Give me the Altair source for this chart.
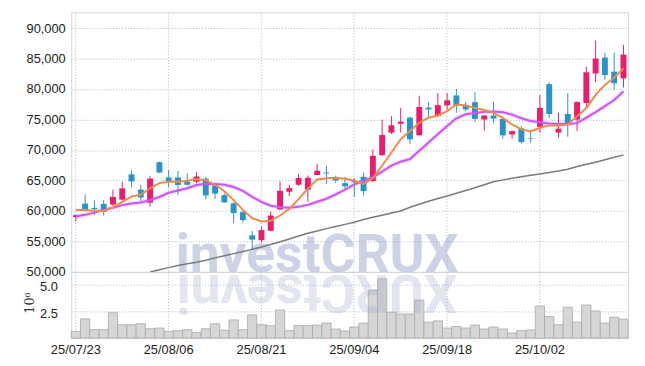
import altair as alt
import pandas as pd

# ---------------- data ----------------
dates = [
    "25/07/23", "25/07/24", "25/07/25", "25/07/28", "25/07/29", "25/07/30", "25/07/31", "25/08/01", "25/08/04", "25/08/05",
    "25/08/06", "25/08/07", "25/08/08", "25/08/11", "25/08/12", "25/08/13", "25/08/14", "25/08/18", "25/08/19", "25/08/20",
    "25/08/21", "25/08/22", "25/08/25", "25/08/26", "25/08/27", "25/08/28", "25/08/29", "25/09/01", "25/09/02", "25/09/03",
    "25/09/04", "25/09/05", "25/09/08", "25/09/09", "25/09/10", "25/09/11", "25/09/12", "25/09/15", "25/09/16", "25/09/17",
    "25/09/18", "25/09/19", "25/09/22", "25/09/23", "25/09/24", "25/09/25", "25/09/26", "25/09/29", "25/09/30", "25/10/01",
    "25/10/02", "25/10/10", "25/10/13", "25/10/14", "25/10/15", "25/10/16", "25/10/17", "25/10/20", "25/10/21", "25/10/22",
]
opens = [
    59000, 61200, 60500, 61150, 61050, 61850, 66000, 63500, 61350, 68000,
    65500, 65500, 64800, 64800, 65300, 64200, 62600, 61250, 59800, 56000,
    55200, 56750, 60250, 63150, 64300, 63500, 65900, 66300, 65550, 64550,
    64900, 65600, 64900, 69150, 72850, 74300, 75300, 72400, 76950, 75550,
    77300, 78950, 77400, 77850, 75000, 75650, 75100, 72550, 73550, 71950,
    73800, 80800, 72850, 75900, 75000, 77700, 82550, 85150, 82850, 81750,
]
highs = [
    59400, 62700, 61750, 61750, 63500, 64800, 66650, 64250, 65700, 68100,
    66700, 66550, 66150, 66400, 65600, 64600, 62850, 61400, 60000, 56700,
    57450, 59900, 64850, 64300, 66100, 65800, 67750, 67400, 65800, 65550,
    65400, 66300, 70050, 75000, 75550, 76900, 75500, 78900, 77850, 79350,
    79350, 80000, 77850, 79450, 75700, 77850, 75300, 73200, 73900, 73100,
    79050, 81100, 76100, 79300, 78000, 83650, 87950, 85950, 85950, 87250,
]
lows = [
    58300, 59900, 59400, 59250, 60850, 61700, 63900, 61600, 60700, 66200,
    63900, 62600, 64150, 64550, 61900, 61950, 61300, 58000, 58100, 53700,
    54800, 56650, 60150, 62450, 64100, 61500, 65900, 64450, 64600, 63650,
    62300, 62500, 64700, 69050, 72600, 72850, 70950, 72400, 75300, 75450,
    76550, 76100, 76350, 74600, 73200, 74450, 71850, 71850, 71050, 71200,
    72850, 75250, 72050, 72150, 73100, 76900, 81100, 81500, 79850, 80250,
]
closes = [
    59300, 60050, 60300, 59850, 62300, 63700, 64850, 62200, 65300, 66300,
    64900, 64250, 64300, 65650, 62550, 62850, 61400, 59650, 58500, 55300,
    56850, 59250, 63300, 63750, 65400, 65450, 66600, 66150, 65000, 64050,
    64700, 63250, 69050, 72450, 74050, 74650, 71750, 77050, 76650, 77350,
    78150, 77300, 76650, 75100, 75650, 75150, 72400, 73100, 71300, 71850,
    76900, 75900, 73500, 74100, 77850, 82750, 85000, 82300, 80950, 85650,
]
ma_short = [
    60150, 60150, 60050, 60050, 60580, 61490, 62390, 62660, 63720, 64570,
    64790, 64790, 64950, 65210, 65050, 64300, 63230, 61780, 60170, 58820,
    58280, 58390, 59250, 60320, 61940, 63660, 65160, 65380, 65430, 65270,
    64990, 64450, 65370, 67430, 69590, 71760, 73120, 74470, 75280, 75660,
    76370, 77450, 77290, 76910, 76550, 76080, 75270, 74190, 73380, 73050,
    73650, 74030, 74030, 74190, 75540, 76890, 79050, 80680, 81870, 83380,
]
ma_mid = [
    59090, 59360, 59730, 60160, 60530, 60960, 61220, 61380, 61750, 62290,
    62980, 63350, 63720, 64250, 64470, 64430, 64300, 63930, 63280, 62310,
    61500, 60860, 60600, 60540, 60700, 61000, 61500, 62000, 62700, 63500,
    64350, 64950, 65500, 66450, 67430, 68080, 68510, 69860, 71220, 72570,
    73930, 75200, 75850, 76050, 76250, 76300, 76200, 75800, 75200, 74750,
    74550, 74350, 74250, 74250, 74400, 75300, 76200, 77200, 78200, 79600,
]
ma_long = [None] * 8 + [
    50000, 50350,
    50700, 51050, 51350, 51600, 51900, 52300, 52650, 53000, 53350, 53700,
    54100, 54500, 54950, 55400, 55900, 56350, 56700, 57100, 57450, 57800,
    58150, 58600, 58950, 59300, 59650, 60000, 60600, 61100, 61600, 62050,
    62450, 62900, 63350, 63800, 64300, 64800, 65100, 65350, 65600, 65850,
    66050, 66300, 66550, 66850, 67300, 67650, 68000, 68400, 68800, 69200,
]
volume_m = [
    0.62, 1.79, 0.78, 0.78, 2.36, 1.24, 1.24, 1.33, 0.87, 0.93,
    0.62, 0.69, 0.78, 0.53, 0.87, 1.33, 0.72, 1.69, 0.78, 2.15,
    1.24, 1.15, 2.61, 0.69, 1.15, 1.15, 1.20, 1.39, 0.84, 0.66,
    1.03, 1.39, 4.44, 5.51, 2.40, 2.24, 2.24, 3.53, 1.48, 1.60,
    0.93, 1.08, 0.93, 1.21, 0.84, 1.03, 0.84, 0.47, 0.69, 0.75,
    2.98, 2.00, 1.24, 2.86, 1.48, 3.07, 2.52, 1.39, 1.94, 1.76,
]
tick_labels = ["25/07/23", "25/08/06", "25/08/21", "25/09/04", "25/09/18", "25/10/02"]
price_ticks = [50000, 55000, 60000, 65000, 70000, 75000, 80000, 85000, 90000]
vol_ticks = [2.5, 5.0]
watermark = "investCRUX"

df = pd.DataFrame({
    "date": dates, "open": opens, "high": highs, "low": lows, "close": closes,
    "ma_short": ma_short, "ma_mid": ma_mid, "ma_long": ma_long, "vol": volume_m,
})

# ---------------- styles ----------------
UP = "#e61f6c"
DOWN = "#2c93c7"
ORANGE = "#ef8a4f"
PURPLE = "#c957ef"
GRAY = "#7a7a7a"
FRAME = "#d3d6de"
WM_COLOR = "#96a2c8"
W, H_PRICE, H_VOL = 564, 263, 67
FONT = "Liberation Sans"
WM_SIZE = 54
WM_CENTER = 249

# watermark layout (approximate Roboto Bold advance widths, em units)
glyph_em = {"i": 0.26, "n": 0.56, "v": 0.50, "e": 0.53, "s": 0.52, "t": 0.33,
            "C": 0.65, "R": 0.63, "U": 0.65, "X": 0.63}
total = sum(glyph_em[c] for c in watermark) * WM_SIZE
cursor = WM_CENTER - total / 2
wm_chars = []
for c in watermark:
    w = glyph_em[c] * WM_SIZE
    wm_chars.append({"ch": c, "px": cursor + w / 2})
    cursor += w
wm_char_df = pd.DataFrame(wm_chars)
wm_df = pd.DataFrame({"t": [watermark]})

xband = alt.Scale(type="band", paddingInner=0, paddingOuter=0)
price_scale = alt.Scale(domain=[50000, 92600], nice=False, zero=False)
vol_scale = alt.Scale(domain=[0, 6.15], nice=False)

x_price = alt.X("date:O", sort=None, scale=xband,
                axis=alt.Axis(values=tick_labels, labels=False, ticks=False, domain=False,
                              grid=True, title=None, bandPosition=0.5))
y_axis_price = alt.Axis(values=price_ticks, format=",.0f", ticks=False, labelPadding=6,
                        domain=False, grid=True, title=None)

color_rule = alt.when("datum.close >= datum.open").then(alt.value(UP)).otherwise(alt.value(DOWN))

base = alt.Chart(df)

wm = alt.Chart(wm_df).mark_text(
    font="Roboto", fontWeight="bold", fontSize=WM_SIZE, align="center", baseline="alphabetic",
    color=WM_COLOR, opacity=0.47,
).encode(x=alt.value(WM_CENTER), y=alt.value(H_PRICE), text="t:N")

ma_long_line = base.mark_line(color=GRAY, strokeWidth=1.5).encode(
    x=x_price, y=alt.Y("ma_long:Q", scale=price_scale, axis=y_axis_price))
wicks = base.mark_rule(strokeWidth=1).encode(
    x=x_price, y=alt.Y("low:Q", scale=price_scale, axis=y_axis_price), y2="high:Q", color=color_rule)
bodies = base.mark_bar(size=6).encode(
    x=x_price, y=alt.Y("open:Q", scale=price_scale, axis=y_axis_price), y2="close:Q", color=color_rule)
ma_mid_halo = base.mark_line(color=PURPLE, strokeWidth=4.5, opacity=0.2).encode(
    x=x_price, y=alt.Y("ma_mid:Q", scale=price_scale, axis=y_axis_price))
ma_mid_line = base.mark_line(color=PURPLE, strokeWidth=2).encode(
    x=x_price, y=alt.Y("ma_mid:Q", scale=price_scale, axis=y_axis_price))
ma_short_line = base.mark_line(color=ORANGE, strokeWidth=2).encode(
    x=x_price, y=alt.Y("ma_short:Q", scale=price_scale, axis=y_axis_price))

price = alt.layer(wm, ma_long_line, wicks, bodies, ma_mid_halo, ma_mid_line, ma_short_line).properties(
    width=W, height=H_PRICE)

x_vol = alt.X("date:O", sort=None, scale=xband,
              axis=alt.Axis(values=tick_labels, ticks=False, labelPadding=6, domain=False, labelAngle=0,
                            grid=True, title=None, bandPosition=0.5))
y_vol = alt.Y("vol:Q", scale=vol_scale,
              axis=alt.Axis(values=vol_ticks, format=".1f", ticks=False, labelPadding=14, domain=False,
                            labelOffset=2, grid=True, title="10⁶", titleFont="DejaVu Serif",
                            titleFontSize=13, titleFontWeight="normal", titlePadding=3,
                            titleColor="#333", titleY=31))
vol_bars = base.mark_bar(color="#d6d6d6", stroke="#a9a9a9", strokeWidth=0.8).encode(x=x_vol, y=y_vol)
wm_reflect = alt.Chart(wm_char_df).mark_text(
    font="Roboto", fontWeight="bold", fontSize=WM_SIZE, align="center", baseline="alphabetic",
    angle=180, color=WM_COLOR, opacity=0.26,
).encode(x=alt.X("px:Q", scale=None), y=alt.value(3), text="ch:N")

vol = alt.layer(vol_bars, wm_reflect).properties(width=W, height=H_VOL)

chart = alt.vconcat(price, vol, spacing=0, bounds="flush").resolve_scale(
    x="independent", y="independent"
).properties(
    padding={"left": 15, "top": 1, "right": 4, "bottom": 4},
).configure_view(
    stroke=FRAME, strokeWidth=1,
).configure_axis(
    labelFont=FONT, labelFontSize=13, labelColor="#222",
    gridColor="#aeb4c8", gridDash=[1, 2], gridWidth=1,
)

chart.save("out.html", embed_options={"renderer": "svg", "actions": False})
